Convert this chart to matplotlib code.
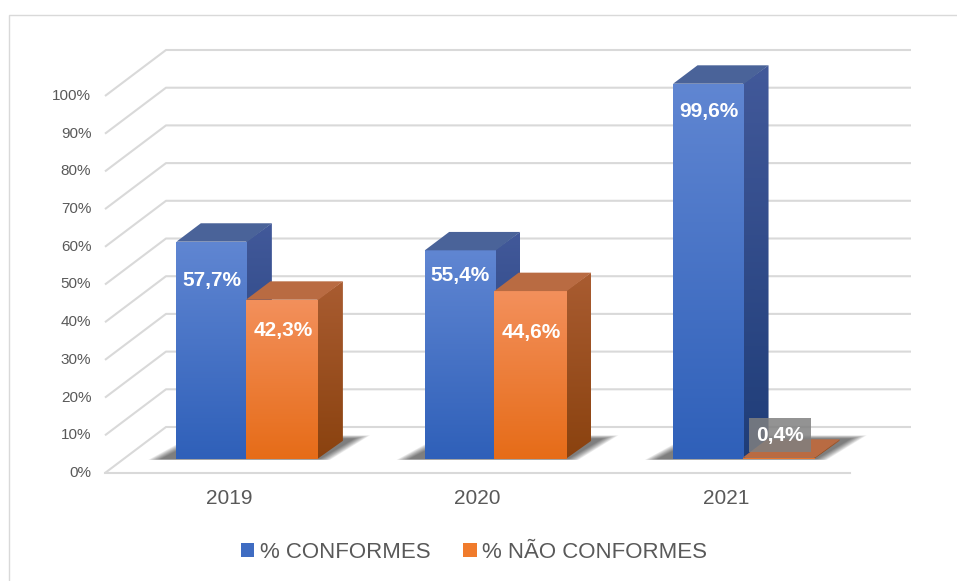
import numpy as np
import matplotlib.pyplot as plt
from matplotlib.patches import Polygon, Rectangle, Patch
from matplotlib.colors import LinearSegmentedColormap

plt.rcParams['font.family'] = ['Liberation Sans', 'DejaVu Sans']

# data
years = ['2019', '2020', '2021']
conformes = [57.7, 55.4, 99.6]
nao_conformes = [42.3, 44.6, 0.4]
labels_conf = ['57,7%', '55,4%', '99,6%']
labels_nao = ['42,3%', '44,6%', '0,4%']
y_ticks = list(range(0, 101, 10))
series_names = ['% CONFORMES', '% NÃO CONFORMES']

# label placement relative to bar top (in % units)
drop_conf = [-10.3, -6.7, -7.4]
drop_nao = [-8.2, -11.0, 6.0]

# canvas layout in pixels
W, H = 957, 581
PX_LEFT, PX_RIGHT = 105, 850      # front edge of the floor
PX_ZERO = 473                     # 0% on the front plane, from top
PX_PER_PCT = 3.77
DEPTH_PX = (61, 46)

GRID = '#d9d9d9'
TXT = '#595959'

fig = plt.figure(figsize=(W / 100, H / 100), dpi=100)
ax = fig.add_axes([0, 0, 1, 1])
ux = (PX_RIGHT - PX_LEFT) / 3
ax.set_xlim(-0.5 - PX_LEFT / ux, -0.5 + (W - PX_LEFT) / ux)
ax.set_ylim(-(H - PX_ZERO) / PX_PER_PCT, PX_ZERO / PX_PER_PCT)
ax.axis('off')

DX = DEPTH_PX[0] / ux
DY = DEPTH_PX[1] / PX_PER_PCT
EPS = 1.5 / ux


def P(x, y, d):
    return (x + d * DX, y + d * DY)


def gradient_face(pts, c_top, c_bot, z):
    pts = np.array(pts)
    cmap = LinearSegmentedColormap.from_list('g', [c_bot, c_top])
    img = np.linspace(0, 1, 128).reshape(-1, 1)
    im = ax.imshow(img, extent=[pts[:, 0].min(), pts[:, 0].max(),
                                pts[:, 1].min(), pts[:, 1].max()],
                   origin='lower', cmap=cmap, aspect='auto', zorder=z,
                   interpolation='bilinear')
    clip = Polygon(pts, closed=True, transform=ax.transData)
    im.set_clip_path(clip)


# walls / gridlines
for v in y_ticks:
    ax.plot([-0.5, -0.5 + DX, 2.5 + DX], [v, v + DY, v + DY],
            color=GRID, lw=1.5, zorder=1, solid_capstyle='butt')
    ax.text(-0.555, v, f'{v}%', ha='right', va='center', fontsize=11, color=TXT)
ax.plot([-0.5, 2.5], [0, 0], color=GRID, lw=1.5, zorder=1)

bar_w = 0.286
d0, d1 = 0.3, 0.7

# soft shadows on the floor
for i in range(3):
    xl, xr = i - bar_w, i + bar_w
    n = 10
    for k in range(n):
        g = (n - k) * 0.005
        gd = (n - k) * 0.008
        shadow = [P(xl - 0.06 - g, 0, d0 - gd * 0.2), P(xr + g, 0, d0 - gd * 0.2),
                  P(xr + 0.03 + g, 0, 0.74 + gd), P(xl - 0.01 - g, 0, 0.74 + gd)]
        ax.add_patch(Polygon(shadow, closed=True, fc='black', ec='none',
                             alpha=0.065, zorder=2))

blue = dict(front=('#6086d2', '#2f60b9'), side=('#42599a', '#1f3d78'), top='#4a6399')
orange = dict(front=('#f3905c', '#e66c18'), side=('#a95c31', '#8a420f'), top='#b96b42')


def draw_bar(x0, x1, h, col, z):
    front = [P(x0, 0, d0), P(x1, 0, d0), P(x1, h, d0), P(x0, h, d0)]
    side = [P(x1 - EPS, 0, d0), P(x1, 0, d1), P(x1, h, d1), P(x1 - EPS, h, d0)]
    top = [P(x0, h, d0), P(x1, h, d0), P(x1, h, d1), P(x0, h, d1)]
    gradient_face(side, col['side'][0], col['side'][1], z)
    gradient_face(front, col['front'][0], col['front'][1], z + 0.1)
    ax.add_patch(Polygon(top, closed=True, fc=col['top'], ec='none', zorder=z + 0.2))


z = 3
for i in range(3):
    draw_bar(i - bar_w, i, conformes[i], blue, z)
    draw_bar(i - EPS, i + bar_w, nao_conformes[i], orange, z + 1)
    z += 2

# data labels
for i in range(3):
    cx, cy = P(i - bar_w / 2, conformes[i] + drop_conf[i], d0)
    ax.text(cx, cy, labels_conf[i], ha='center', va='center', fontsize=15,
            fontweight='bold', color='white', zorder=20)
    cx, cy = P(i + bar_w / 2, nao_conformes[i] + drop_nao[i], d0)
    if drop_nao[i] > 0:
        ax.text(cx, cy, labels_nao[i], ha='center', va='center', fontsize=15,
                fontweight='bold', color='white', zorder=20,
                bbox=dict(boxstyle='square,pad=0.35', fc='#808080', ec='none', alpha=0.85))
    else:
        ax.text(cx, cy, labels_nao[i], ha='center', va='center', fontsize=15,
                fontweight='bold', color='white', zorder=20)

# category labels
for i, yr in enumerate(years):
    ax.text(i, -6.7, yr, ha='center', va='center', fontsize=15, color=TXT)

# chart border
fig.patches.append(Rectangle((9 / W, -0.1), 2, 1 - 15 / H + 0.1,
                             transform=fig.transFigure, fill=False,
                             ec=GRID, lw=1))

handles = [Patch(fc='#3f6cc2', ec='none'), Patch(fc='#f07b2c', ec='none')]
fig.legend(handles, series_names, loc='center', bbox_to_anchor=(474 / W, 1 - 552 / H),
           ncol=2, frameon=False, fontsize=16, handlelength=0.6, handleheight=0.6,
           handletextpad=0.25, columnspacing=1.5, labelcolor=TXT)

fig.savefig('out.png', dpi=100)
